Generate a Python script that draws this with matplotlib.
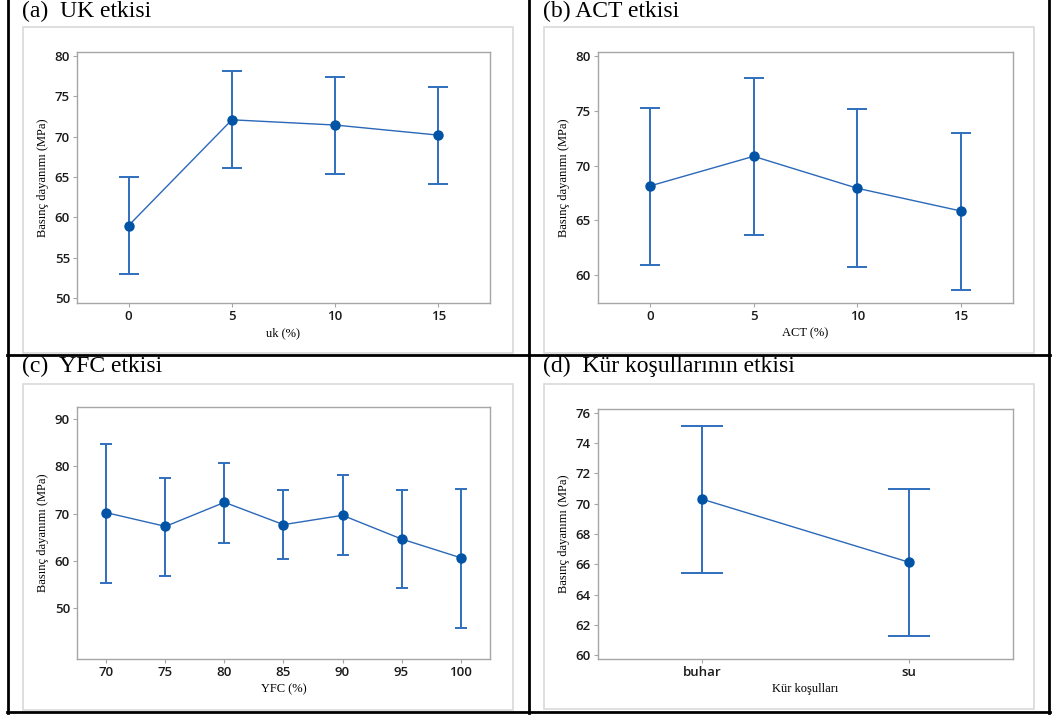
import numpy as np
import matplotlib
matplotlib.use("Agg")
import matplotlib.pyplot as plt
from matplotlib.patches import Rectangle
from matplotlib.lines import Line2D

# data (mean and 95% interval ends)
uk_x = [0, 5, 10, 15]
uk_mean = [59.0, 72.1, 71.45, 70.2]
uk_low = [52.95, 66.15, 65.4, 64.2]
uk_high = [64.95, 78.1, 77.45, 76.2]

act_x = [0, 5, 10, 15]
act_mean = [68.13, 70.84, 67.92, 65.84]
act_low = [60.9, 63.62, 60.76, 58.63]
act_high = [75.22, 77.96, 75.16, 73.0]

yfc_x = [70, 75, 80, 85, 90, 95, 100]
yfc_mean = [70.2, 67.3, 72.4, 67.67, 69.65, 64.63, 60.67]
yfc_low = [55.3, 56.8, 63.85, 60.4, 61.17, 54.24, 45.76]
yfc_high = [84.77, 77.56, 80.8, 75.0, 78.13, 75.0, 75.16]

kur_cat = ["buhar", "su"]
kur_mean = [70.31, 66.13]
kur_low = [65.44, 61.28]
kur_high = [75.14, 70.95]

W, H = 1053, 715
fig = plt.figure(figsize=(W / 100, H / 100), dpi=100)

serif = "Liberation Serif"
sans = "Open Sans"
ylab = "Basınç dayanımı (MPa)"

def px_axes(l, t, r, b):
    return fig.add_axes([l / W, 1 - b / H, (r - l) / W, (b - t) / H])

def frame(l, t, r, b):
    fig.patches.append(Rectangle((l / W, 1 - b / H), (r - l) / W, (b - t) / H,
                                 transform=fig.transFigure, fill=False,
                                 edgecolor="#d9d9d9", lw=1.2))

def hline(x0, x1, y):
    fig.lines.append(Line2D([x0 / W, x1 / W], [1 - y / H, 1 - y / H],
                            transform=fig.transFigure, color="black", lw=2))

def vline(x, y0, y1):
    fig.lines.append(Line2D([x / W, x / W], [1 - y0 / H, 1 - y1 / H],
                            transform=fig.transFigure, color="black", lw=2))

def panel(box, x, mean, low, high, xlim, ylim, yticks, xlabel, cap, cats=None):
    ax = px_axes(*box)
    mean = np.array(mean)
    err = [mean - np.array(low), np.array(high) - mean]
    ax.errorbar(x, mean, yerr=err, fmt="none", ecolor="#2f6fbf",
                elinewidth=1.4, capsize=cap, capthick=1.4, zorder=2)
    ax.plot(x, mean, "-", color="#2a68b8", lw=1.0, zorder=3)
    ax.plot(x, mean, "o", color="#0053a5", ms=6.5, zorder=4)
    ax.set_xlim(*xlim)
    ax.set_ylim(*ylim)
    ax.set_yticks(yticks)
    ax.set_xticks(x)
    if cats is not None:
        ax.set_xticklabels(cats)
    for s in ax.spines.values():
        s.set_color("#a6a6a6")
        s.set_linewidth(1.0)
    ax.tick_params(length=3, width=0.8, color="#a6a6a6", labelsize=9.5,
                   labelcolor="#1a1a1a", pad=2)
    for lab in ax.get_xticklabels() + ax.get_yticklabels():
        lab.set_fontfamily(sans)
        lab.set_fontweight("semibold")
    ax.set_xlabel(xlabel, fontfamily=serif, fontsize=9, labelpad=3)
    ax.set_ylabel(ylab, fontfamily=serif, fontsize=9, labelpad=4)
    return ax

# graph frames
frame(23, 27, 513, 353)
frame(544, 27, 1034, 353)
frame(23, 384, 513, 710)
frame(544, 384, 1034, 709)

panel((77, 52, 490, 303), uk_x, uk_mean, uk_low, uk_high,
      (-2.5, 17.5), (49.4, 80.5), np.arange(50, 81, 5), "uk (%)", 7.5)
panel((598, 52, 1013, 303), act_x, act_mean, act_low, act_high,
      (-2.5, 17.5), (57.44, 80.37), np.arange(60, 81, 5), "ACT (%)", 7.5)
panel((77, 407, 490, 659), yfc_x, yfc_mean, yfc_low, yfc_high,
      (67.5, 102.5), (39.2, 92.6), np.arange(50, 91, 10), "YFC (%)", 4.5)
panel((598, 409, 1013, 659), np.arange(len(kur_cat)), kur_mean, kur_low, kur_high,
      (-0.5, 1.5), (59.74, 76.26), np.arange(60, 77, 2), "Kür koşulları", 15,
      cats=kur_cat)

# panel titles
tkw = dict(fontfamily=serif, fontsize=17, va="top", ha="left")
fig.text(22 / W, 1 - 1 / H, "(a)  UK etkisi", **tkw)
fig.text(543 / W, 1 - 1 / H, "(b) ACT etkisi", **tkw)
fig.text(22 / W, 1 - 356 / H, "(c)  YFC etkisi", **tkw)
fig.text(543 / W, 1 - 356 / H, "(d)  Kür koşullarının etkisi", **tkw)

# table borders
vline(7.5, 0, 713)
vline(529, 0, 713)
vline(1049, 0, 713)
hline(6.5, 1050, 355)
hline(6.5, 1050, 712)

fig.savefig("out.png", dpi=100)
